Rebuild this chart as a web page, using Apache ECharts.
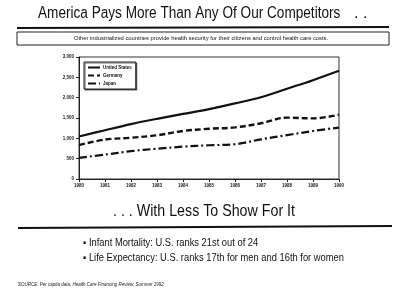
<!DOCTYPE html>
<html><head><meta charset="utf-8">
<script src="https://cdn.jsdelivr.net/npm/echarts@6/dist/echarts.min.js"></script>
<style>html,body{margin:0;padding:0;background:#fff}#c{width:400px;height:307px}</style>
</head><body><div id="c"></div>
<script>
var years = ['1980','1981','1982','1983','1984','1985','1986','1987','1988','1989','1990'];
var unitedStates = [1045, 1200, 1350, 1480, 1600, 1720, 1860, 2010, 2220, 2430, 2660];
var germany = [835, 970, 1015, 1075, 1180, 1235, 1270, 1370, 1510, 1490, 1580];
var japan = [520, 600, 685, 745, 795, 830, 855, 975, 1080, 1180, 1265];
var yTicks = [0, 500, 1000, 1500, 2000, 2500, 3000];

var chart = echarts.init(document.getElementById('c'), null, {renderer:'canvas'});
var ff = '"Liberation Sans", Arial, sans-serif';
var lineBase = {type:'line', smooth:0.35, symbol:'none'};
chart.setOption({
  backgroundColor:'#fff',
  animation:false,
  grid:{left:79, right:61, top:57, bottom:128, show:true, borderColor:'#333', borderWidth:1},
  legend:{
    left:84, top:62, orient:'vertical', itemWidth:12, itemHeight:6, itemGap:3,
    padding:[3,4,3,3], borderColor:'#222', borderWidth:1, backgroundColor:'#fff',
    shadowColor:'rgba(0,0,0,0.6)', shadowOffsetX:1, shadowOffsetY:1, shadowBlur:0,
    itemStyle:{opacity:0},
    textStyle:{fontSize:4.5, fontFamily:ff, fontWeight:'bold', color:'#111', padding:[0,0,0,-2]},
    data:['United States','Germany','Japan']
  },
  xAxis:{type:'category', data:years, boundaryGap:false,
    axisLine:{lineStyle:{color:'#222', width:1}},
    axisTick:{length:3, lineStyle:{color:'#222'}},
    axisLabel:{fontSize:4.5, fontFamily:ff, color:'#222', margin:4, fontWeight:'bold'},
    splitLine:{show:false}},
  yAxis:{type:'value', min:0, max:3000, interval:500,
    axisLine:{show:true, lineStyle:{color:'#222', width:1}},
    axisTick:{show:true, length:3, lineStyle:{color:'#222'}},
    axisLabel:{fontSize:4.5, fontFamily:ff, color:'#222', margin:5, fontWeight:'bold',
      formatter:function(v){return yTicks.indexOf(v)>=0 ? v.toLocaleString('en-US') : '';}},
    splitLine:{show:false}},
  series:[
    Object.assign({}, lineBase, {name:'United States', data:unitedStates, lineStyle:{color:'#111', width:2.2, type:'solid'}, itemStyle:{color:'#111'}}),
    Object.assign({}, lineBase, {name:'Germany', data:germany, lineStyle:{color:'#111', width:2.4, type:[6,3]}, itemStyle:{color:'#111'}}),
    Object.assign({}, lineBase, {name:'Japan', data:japan, lineStyle:{color:'#111', width:2.2, type:[8,3,2,3]}, itemStyle:{color:'#111'}})
  ],
  graphic:[
    {type:'text', x:38, y:14, scaleX:0.85, style:{text:'America Pays More Than Any Of Our Competitors', font:'16px '+ff, fill:'#111', verticalAlign:'middle'}},
    {type:'text', x:354, y:14, style:{text:'. .', font:'16px '+ff, fill:'#111', verticalAlign:'middle'}},
    {type:'line', shape:{x1:17,y1:28,x2:389,y2:27}, style:{stroke:'#111', lineWidth:2}},
    {type:'rect', shape:{x:17,y:32,width:372,height:13}, style:{fill:'none', stroke:'#222', lineWidth:1}},
    {type:'text', x:201, y:38.5, style:{text:'Other industrialized countries provide health security for their citizens and control health care costs.', font:'5.8px '+ff, fill:'#111', align:'center', verticalAlign:'middle'}},
    {type:'text', x:113, y:212, scaleX:0.89, style:{text:'. . . With Less To Show For It', font:'16px '+ff, fill:'#111', verticalAlign:'middle'}},
    {type:'line', shape:{x1:18,y1:228,x2:392,y2:226}, style:{stroke:'#111', lineWidth:1.8}},
    {type:'text', x:83, y:243, scaleX:0.89, style:{text:'\u25AA Infant Mortality: U.S. ranks 21st out of 24', font:'10.5px '+ff, fill:'#111', verticalAlign:'middle'}},
    {type:'text', x:83, y:258, scaleX:0.89, style:{text:'\u25AA Life Expectancy: U.S. ranks 17th for men and 16th for women', font:'10.5px '+ff, fill:'#111', verticalAlign:'middle'}},
    {type:'text', x:18, y:285, style:{text:'SOURCE: Per capita data, Health Care Financing Review, Summer 1992', font:'italic 4.5px '+ff, fill:'#222', verticalAlign:'middle'}}
  ]
});
</script></body></html>
